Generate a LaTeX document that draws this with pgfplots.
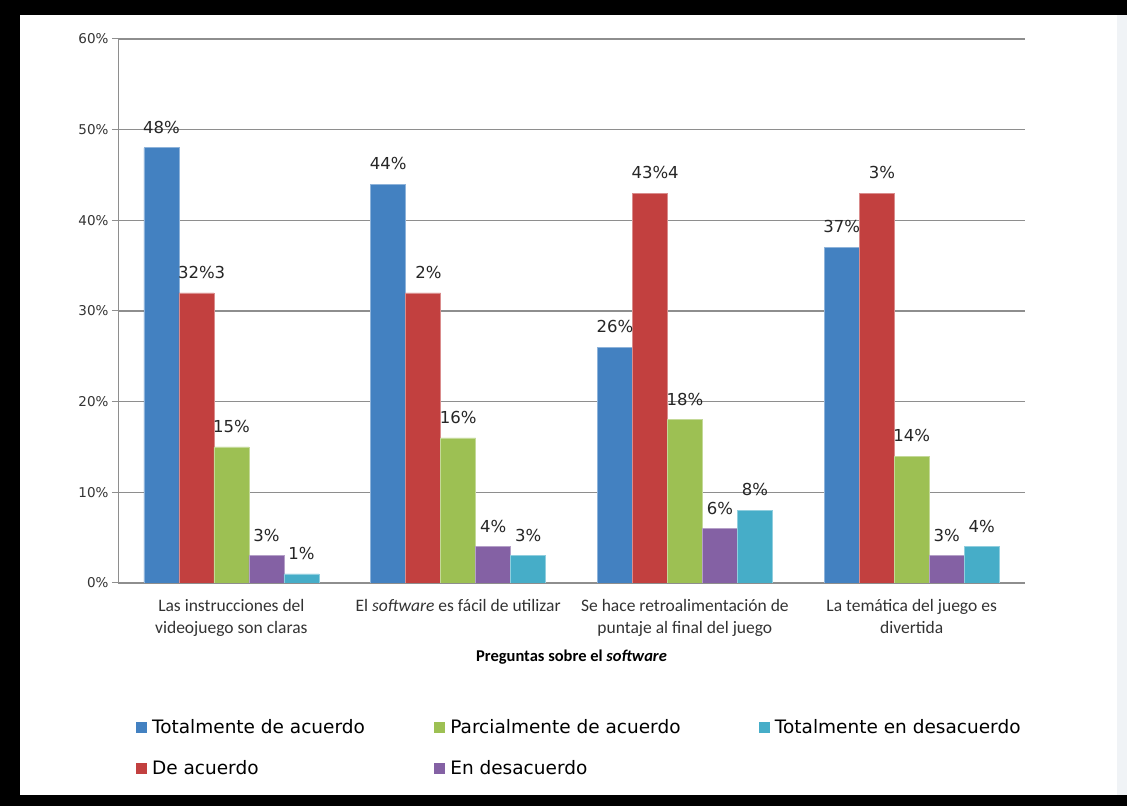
\documentclass[border=0pt]{standalone}
\usepackage{fontspec}
\setmainfont{Carlito}
\newfontfamily\dv{DejaVu Sans}
\usepackage{pgfplots}
\pgfplotsset{compat=1.18}
\definecolor{cBlue}{HTML}{4381C1}
\definecolor{cRed}{HTML}{C2403F}
\definecolor{cGreen}{HTML}{9DC053}
\definecolor{cPurple}{HTML}{8461A4}
\definecolor{cCyan}{HTML}{46ADC8}
\definecolor{gridc}{HTML}{8E8E8E}
\definecolor{strip}{HTML}{F0F3F6}
\begin{document}
\begin{tikzpicture}
\fill[black] (0pt,0pt) rectangle (1127pt,806pt);
\fill[white] (20pt,11pt) rectangle (1117pt,791pt);
\fill[strip] (1117pt,11pt) rectangle (1127pt,791pt);
\begin{axis}[
  at={(118pt,223pt)}, anchor=south west,
  scale only axis, width=907pt, height=544pt,
  xmin=-0.5, xmax=3.5, ymin=0, ymax=60,
  ybar=0pt, bar width=35pt,
  axis x line=bottom, axis y line=left,
  axis line style={draw=gridc, line width=1pt, -},
  tick align=outside, major tick length=6pt,
  tick style={draw=gridc, line width=1pt},
  xtick={0,1,2,3},
  xticklabels={Las instrucciones del\\videojuego son claras,
               El \textit{software} es fácil de utilizar,
               Se hace retroalimentación de\\puntaje al final del juego,
               La temática del juego es\\divertida},
  major x tick style={draw=none},
  x tick label style={font=\fontsize{17.5}{22}\selectfont, align=center, text=black!80, yshift=-7pt},
  extra x ticks={-0.5,0.5,1.5,2.5,3.5},
  extra x tick labels={},
  extra x tick style={grid=none, major tick length=6pt, tick style={draw=gridc, line width=1pt}},
  ytick={0,10,...,60},
  yticklabel={\pgfmathprintnumber{\tick}\%},
  /pgf/number format/assume math mode=true,
  y tick label style={font=\dv\fontsize{13.5}{16}\selectfont, text=black!80},
  ymajorgrids, grid style={draw=gridc, line width=1.2pt},
  xlabel={\textbf{Preguntas sobre el \textit{software}}},
  xlabel style={font=\fontsize{16.5}{20}\selectfont, yshift=6pt},
  point meta=explicit symbolic,
  nodes near coords,
  nodes near coords style={font=\dv\fontsize{16.5}{19}\selectfont, text=black!85, anchor=south, inner sep=0pt, yshift=14pt},
  legend columns=3,
  legend cell align=left,
  legend style={draw=none, fill=none, at={(0.016,-0.243)}, anchor=north west,
    font=\dv\fontsize{18.5}{21}\selectfont, row sep=21pt,
    /tikz/every odd column/.append style={column sep=4pt},
    /tikz/column 2/.style={column sep=67pt},
    /tikz/column 4/.style={column sep=76pt}},
]
\addlegendimage{legend image code/.code={\fill[cBlue] (0pt,-5pt) rectangle (10pt,5pt);}}
\addlegendentry{Totalmente de acuerdo}
\addlegendimage{legend image code/.code={\fill[cGreen] (0pt,-5pt) rectangle (10pt,5pt);}}
\addlegendentry{Parcialmente de acuerdo}
\addlegendimage{legend image code/.code={\fill[cCyan] (0pt,-5pt) rectangle (10pt,5pt);}}
\addlegendentry{Totalmente en desacuerdo}
\addlegendimage{legend image code/.code={\fill[cRed] (0pt,-5pt) rectangle (10pt,5pt);}}
\addlegendentry{De acuerdo}
\addlegendimage{legend image code/.code={\fill[cPurple] (0pt,-5pt) rectangle (10pt,5pt);}}
\addlegendentry{En desacuerdo}

\addplot[fill=cBlue, draw=cBlue!60!white, line width=0.6pt] coordinates {
  (0,48) [48\%] (1,44) [44\%] (2,26) [26\%] (3,37) [37\%]};
\addplot[fill=cRed, draw=cRed!60!white, line width=0.6pt] coordinates {
  (0,32) [{32\%\rlap{3}}] (1,32) [{\phantom{3}2\%}] (2,43) [{43\%\rlap{4}}] (3,43) [{\phantom{4}3\%}]};
\addplot[fill=cGreen, draw=cGreen!60!white, line width=0.6pt] coordinates {
  (0,15) [15\%] (1,16) [16\%] (2,18) [18\%] (3,14) [14\%]};
\addplot[fill=cPurple, draw=cPurple!60!white, line width=0.6pt] coordinates {
  (0,3) [3\%] (1,4) [4\%] (2,6) [6\%] (3,3) [3\%]};
\addplot[fill=cCyan, draw=cCyan!60!white, line width=0.6pt] coordinates {
  (0,1) [1\%] (1,3) [3\%] (2,8) [8\%] (3,4) [4\%]};
\end{axis}
\pgfresetboundingbox
\useasboundingbox (0pt,0pt) rectangle (1127pt,806pt);
\end{tikzpicture}
\end{document}
